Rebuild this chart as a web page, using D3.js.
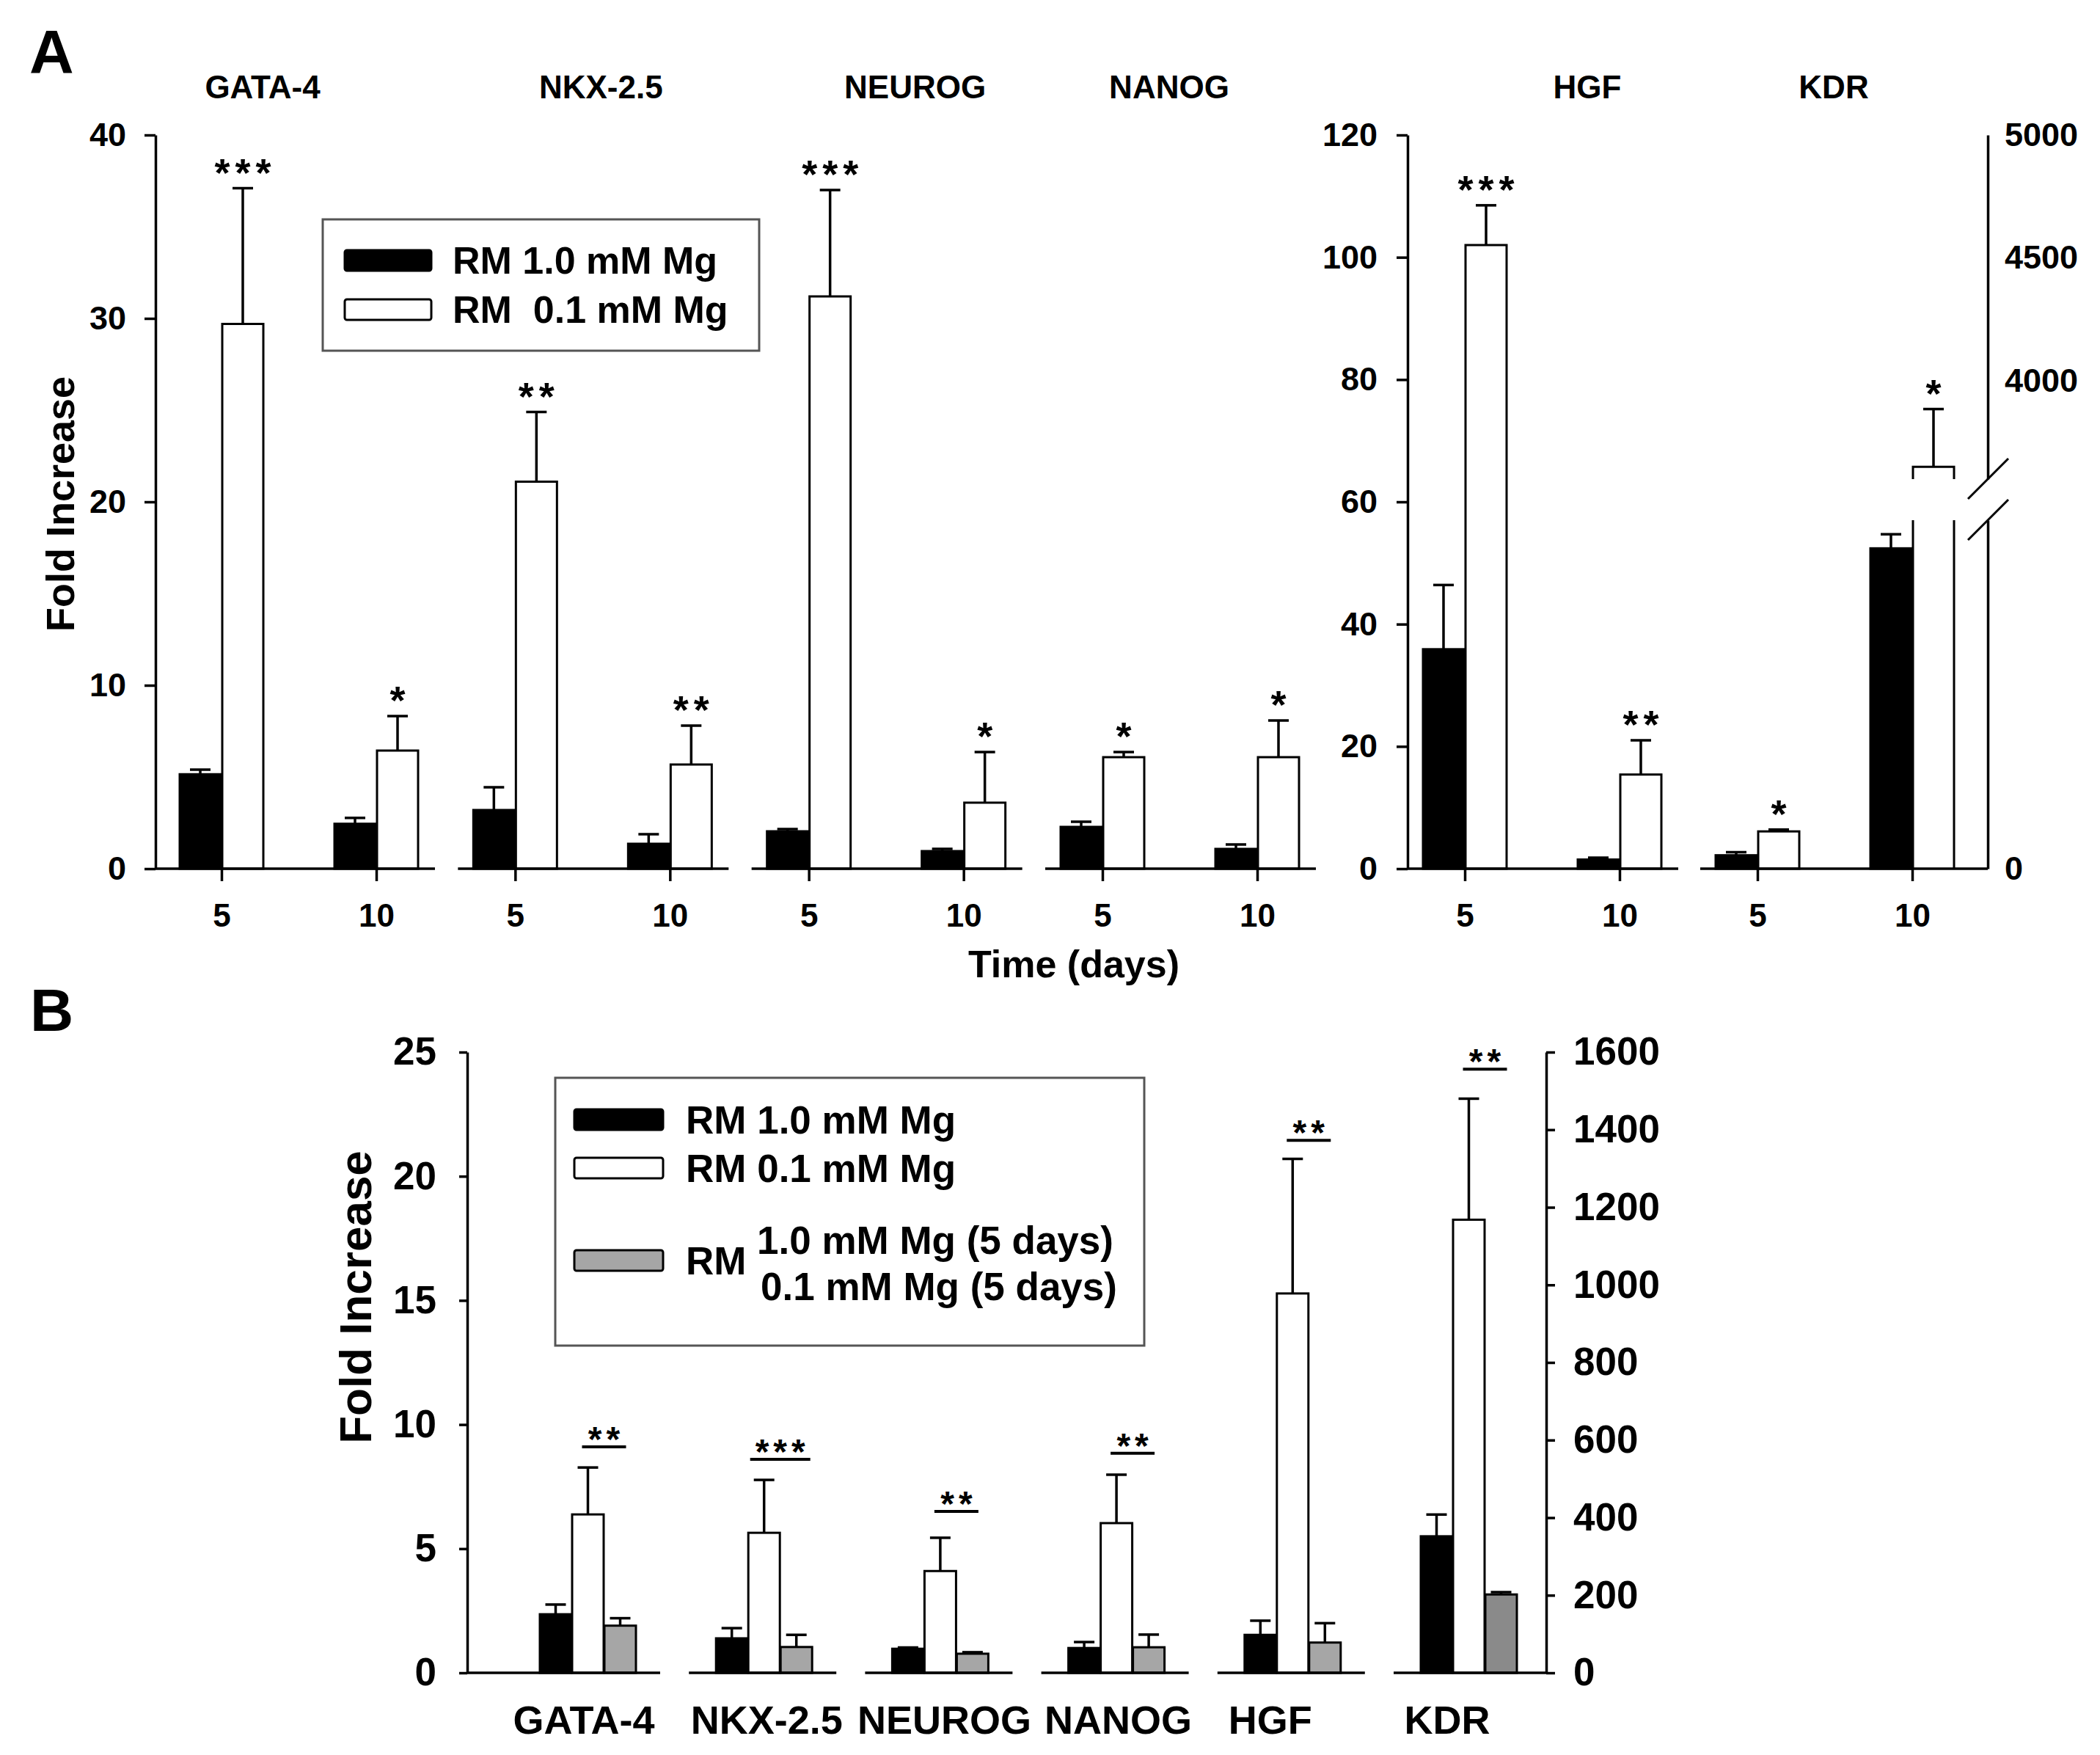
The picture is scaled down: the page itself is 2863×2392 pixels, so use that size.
<!DOCTYPE html>
<html><head><meta charset="utf-8">
<script src="https://cdn.jsdelivr.net/npm/d3@7"></script>
<style>
html,body{margin:0;padding:0;background:#fff}
svg{display:block}
text{font-family:"Liberation Sans",Arial,Helvetica,sans-serif;font-weight:bold;fill:#000}
</style>
</head><body>
<svg id="c" width="2863" height="2392" viewBox="0 0 2863 2392"></svg>
<script>
// ================= DATA =================
// Panel A
const genesA = ["GATA-4","NKX-2.5","NEUROG","NANOG","HGF","KDR"];
const daysA = ["5","10"];
// per gene: [day 5, day 10]
const aHighMean = [[5.15,2.45],[3.2,1.36],[2.04,0.96],[2.28,1.08],[35.9,1.5],[2.2,52.4]];   // RM 1.0 mM Mg
const aHighSD   = [[0.25,0.32],[1.24,0.52],[0.12,0.12],[0.28,0.24],[10.5,0.3],[0.5,2.3]];
const aLowMean  = [[29.7,6.44],[21.1,5.68],[31.2,3.6],[6.08,6.08],[102,15.4],[6.1,3650]];   // RM 0.1 mM Mg
const aLowSD    = [[7.4,1.88],[3.8,2.12],[5.8,2.76],[0.28,2.0],[6.5,5.6],[0.3,235]];
const aSig      = [["***","*"],["**","**"],["***","*"],["*","*"],["***","**"],["*","*"]];
const aTicksLeft = [0,10,20,30,40];
const aTicksHGF  = [0,20,40,60,80,100,120];
const aTicksKDRLow = [0];
const aTicksKDRHigh = [4000,4500,5000];
const kdrBreak = [57,3600];           // lower segment ends at 57, upper segment starts at 3600
const legendA = ["RM 1.0 mM Mg","RM  0.1 mM Mg"];

// Panel B
const genesB = ["GATA-4","NKX-2.5","NEUROG","NANOG","HGF","KDR"];
const bHighMean   = [2.36,1.39,0.97,1.0,1.53,352];
const bHighSD     = [0.39,0.41,0.05,0.24,0.57,56];
const bLowMean    = [6.38,5.64,4.1,6.03,15.28,1168];
const bLowSD      = [1.89,2.13,1.34,1.95,5.42,312];
const bSwitchMean = [1.9,1.04,0.77,1.03,1.22,202];
const bSwitchSD   = [0.3,0.49,0.06,0.51,0.78,6];
const bSig        = ["**","***","**","**","**","**"];
const bSigLevel   = [9.1,8.6,6.5,8.84,21.45,1556];
const bAxisOf     = ["left","left","left","left","left","right"];
const bTicksLeft  = [0,5,10,15,20,25];
const bTicksRight = [0,200,400,600,800,1000,1200,1400,1600];

// ================= LAYOUT =================
const titleNudgeA = [-49, 12, 40, -14, 62, -1];   // gene title shifts in panel A (px)
const labelNudgeB = [-6, 3, 5, 2, -31, -30];      // gene label shifts in panel B (px)

// ================= DRAW =================
const svg = d3.select("#c");
const SW = 3.5;
const fmt = d3.format("d");

function styleAxis(g, fs){
  g.attr("font-family", null).attr("font-size", fs);
  g.selectAll("path.domain").attr("stroke","#000").attr("stroke-width",SW);
  g.selectAll(".tick line").attr("stroke","#000").attr("stroke-width",SW);
}

// ---------- Panel A ----------
const A = svg.append("g");
const baseA = 1184, topA = 184;
const yA  = d3.scaleLinear().domain([0,40]).range([baseA,topA]);
const yH  = d3.scaleLinear().domain([0,120]).range([baseA,topA]);
const yKlo = d3.scaleLinear().domain([0,kdrBreak[0]]).range([baseA, yH(kdrBreak[0])]);
const yKup = d3.scaleLinear().domain([kdrBreak[1],5000]).range([653,topA]);
const yK = v => v <= kdrBreak[0] ? yKlo(v) : yKup(v);
const xLeft  = d3.scalePoint().domain(genesA.slice(0,4)).range([302,1503]);
const xRight = d3.scalePoint().domain(genesA.slice(4)).range([1997,2396]);
const gx = g => genesA.indexOf(g) < 4 ? xLeft(g) : xRight(g);
const xDay = d3.scalePoint().domain(daysA).range([0,211]);
const yFor = g => g === "HGF" ? yH : (g === "KDR" ? yK : yA);
const leftAxisX = 212, hgfAxisX = 1919, kdrAxisX = 2710;
const bwA = 56;

const barsA = [];
genesA.forEach((g,i)=>daysA.forEach((d,j)=>{
  barsA.push({g,d,s:0,mean:aHighMean[i][j],sd:aHighSD[i][j],sig:null});
  barsA.push({g,d,s:1,mean:aLowMean[i][j],sd:aLowSD[i][j],sig:aSig[i][j]});
}));
const bxA = b => gx(b.g) + xDay(b.d) + (b.s === 0 ? -bwA-1 : 1);

const normal = barsA.filter(b => !(b.g === "KDR" && b.mean > kdrBreak[0]));
const broken = barsA.filter(b => b.g === "KDR" && b.mean > kdrBreak[0]);

A.selectAll("rect.barA").data(normal).join("rect")
  .attr("x", bxA).attr("width", bwA)
  .attr("y", b => yFor(b.g)(b.mean))
  .attr("height", b => baseA - yFor(b.g)(b.mean))
  .attr("fill", b => b.s === 0 ? "#000" : "#fff")
  .attr("stroke","#000").attr("stroke-width",3);

broken.forEach(b=>{
  const x0 = bxA(b), x1 = x0 + bwA;
  A.append("path")
    .attr("d", `M${x0},${baseA}V${yKlo(kdrBreak[0])}M${x1},${baseA}V${yKlo(kdrBreak[0])}`)
    .attr("fill","none").attr("stroke","#000").attr("stroke-width",3);
  A.append("path")
    .attr("d", `M${x0},${yKup(kdrBreak[1])}V${yK(b.mean)}H${x1}V${yKup(kdrBreak[1])}`)
    .attr("fill","none").attr("stroke","#000").attr("stroke-width",3);
});

// error bars
const errA = A.append("g").attr("stroke","#000").attr("stroke-width",SW).attr("fill","none");
barsA.forEach(b=>{
  const y = yFor(b.g), cx = bxA(b) + bwA/2;
  const y0 = y(b.mean), y1 = y(b.mean + b.sd);
  errA.append("line").attr("x1",cx).attr("x2",cx).attr("y1",y0).attr("y2",y1);
  errA.append("line").attr("x1",cx-14).attr("x2",cx+14).attr("y1",y1).attr("y2",y1);
});
// significance stars
A.selectAll("text.sigA").data(barsA.filter(b=>b.sig)).join("text")
  .attr("x", b => bxA(b) + bwA/2).attr("dx", 3.5)
  .attr("y", b => yFor(b.g)(b.mean + b.sd) - 3)
  .attr("text-anchor","middle").attr("font-size",54).attr("letter-spacing",7)
  .text(b => b.sig);

// x axis segments
genesA.forEach((g,i)=>{
  const c = gx(g);
  const start = i === 0 ? leftAxisX : (g === "HGF" ? hgfAxisX : c - 78);
  const end = g === "KDR" ? kdrAxisX : c + xDay("10") + 80;
  A.append("line").attr("x1",start).attr("x2",end).attr("y1",baseA).attr("y2",baseA)
    .attr("stroke","#000").attr("stroke-width",SW);
  const xs = d3.scalePoint().domain(daysA).range([c + xDay("5"), c + xDay("10")]);
  const ax = A.append("g").attr("transform",`translate(0,${baseA})`)
    .call(d3.axisBottom(xs).tickSize(17).tickSizeOuter(0).tickPadding(31));
  ax.select(".domain").remove();
  styleAxis(ax, 44);
  // gene title
  A.append("text").attr("x", c + 105 + titleNudgeA[i]).attr("y",134)
    .attr("text-anchor","middle").attr("font-size",44).text(g);
});

// y axes
const axL = A.append("g").attr("transform",`translate(${leftAxisX},0)`)
  .call(d3.axisLeft(yA).tickValues(aTicksLeft).tickFormat(fmt).tickSize(15).tickSizeOuter(0).tickPadding(25));
styleAxis(axL, 45);
const axH = A.append("g").attr("transform",`translate(${hgfAxisX},0)`)
  .call(d3.axisLeft(yH).tickValues(aTicksHGF).tickFormat(fmt).tickSize(15).tickSizeOuter(0).tickPadding(26));
styleAxis(axH, 45);
const axK1 = A.append("g").attr("transform",`translate(${kdrAxisX},0)`)
  .call(d3.axisRight(yKlo).tickValues(aTicksKDRLow).tickFormat(fmt).tickSize(0).tickSizeOuter(0).tickPadding(23));
styleAxis(axK1, 45);
const axK2 = A.append("g").attr("transform",`translate(${kdrAxisX},0)`)
  .call(d3.axisRight(yKup).tickValues(aTicksKDRHigh).tickFormat(fmt).tickSize(0).tickSizeOuter(0).tickPadding(23));
styleAxis(axK2, 45);
// axis break marks
[yKup(kdrBreak[1]), yKlo(kdrBreak[0])].forEach(y=>{
  A.append("line").attr("x1",kdrAxisX-27).attr("y1",y+27).attr("x2",kdrAxisX+28).attr("y2",y-28)
    .attr("stroke","#000").attr("stroke-width",3);
});

// titles
A.append("text").attr("x",40).attr("y",100).attr("font-size",84).text("A");
A.append("text").attr("transform","translate(101,687) rotate(-90)")
  .attr("text-anchor","middle").attr("font-size",54).text("Fold Increase");
A.append("text").attr("x",1464).attr("y",1332).attr("text-anchor","middle")
  .attr("font-size",52).text("Time (days)");

// legend A
const lgA = A.append("g");
lgA.append("rect").attr("x",440).attr("y",299).attr("width",595).attr("height",179)
  .attr("fill","#fff").attr("stroke","#555").attr("stroke-width",3);
legendA.forEach((t,i)=>{
  const yc = 355 + i*67;
  lgA.append("rect").attr("x",470).attr("y",yc-14).attr("width",118).attr("height",28).attr("rx",3)
    .attr("fill", i===0 ? "#000" : "#fff").attr("stroke","#000").attr("stroke-width",3);
  lgA.append("text").attr("x",617).attr("y",yc+18).attr("font-size",52)
    .attr("xml:space","preserve").style("white-space","pre").text(t);
});

// ---------- Panel B ----------
const B = svg.append("g");
const baseB = 2280, topB = 1434;
const yB  = d3.scaleLinear().domain([0,25]).range([baseB,topB]);
const yB2 = d3.scaleLinear().domain([0,1600]).range([baseB,topB]);
const xB = d3.scalePoint().domain(genesB).range([802,2003]);
const leftB = 637, rightB = 2108;
const bwB = 43, pitchB = 44;
const colB = ["#000","#fff","#a6a6a6"];
const yForB = i => bAxisOf[i] === "right" ? yB2 : yB;

const barsB = [];
genesB.forEach((g,i)=>{
  barsB.push({g,i,s:0,mean:bHighMean[i],sd:bHighSD[i]});
  barsB.push({g,i,s:1,mean:bLowMean[i],sd:bLowSD[i]});
  barsB.push({g,i,s:2,mean:bSwitchMean[i],sd:bSwitchSD[i]});
});
const bxB = b => xB(b.g) - 66 + b.s*pitchB;

B.selectAll("rect.barB").data(barsB).join("rect")
  .attr("x", bxB).attr("width", bwB)
  .attr("y", b => yForB(b.i)(b.mean))
  .attr("height", b => baseB - yForB(b.i)(b.mean))
  .attr("fill", b => (b.s === 2 && b.g === "KDR") ? "#8a8a8a" : colB[b.s])
  .attr("stroke","#000").attr("stroke-width",3);

const errB = B.append("g").attr("stroke","#000").attr("stroke-width",SW);
barsB.forEach(b=>{
  const y = yForB(b.i), cx = bxB(b) + bwB/2;
  const y0 = y(b.mean), y1 = y(b.mean + b.sd);
  errB.append("line").attr("x1",cx).attr("x2",cx).attr("y1",y0).attr("y2",y1);
  errB.append("line").attr("x1",cx-14).attr("x2",cx+14).attr("y1",y1).attr("y2",y1);
});

// significance brackets
genesB.forEach((g,i)=>{
  const cx = xB(g) - 66 + 2*pitchB - 0.5;
  const y = yForB(i)(bSigLevel[i]);
  const hw = bSig[i].length > 2 ? 41 : 30;
  B.append("line").attr("x1",cx-hw).attr("x2",cx+hw).attr("y1",y).attr("y2",y)
    .attr("stroke","#000").attr("stroke-width",4);
  B.append("text").attr("x",cx).attr("dx",3).attr("y",y+6).attr("text-anchor","middle")
    .attr("font-size",48).attr("letter-spacing",6).text(bSig[i]);
});

// x axis segments + labels
genesB.forEach((g,i)=>{
  const c = xB(g);
  const start = i === 0 ? leftB : c - 103;
  const end = i === genesB.length-1 ? rightB : c + 98;
  B.append("line").attr("x1",start).attr("x2",end).attr("y1",baseB).attr("y2",baseB)
    .attr("stroke","#000").attr("stroke-width",SW);
  B.append("text").attr("x", c + labelNudgeB[i]).attr("y", 2363)
    .attr("text-anchor","middle").attr("font-size",54).text(g);
});

const axBL = B.append("g").attr("transform",`translate(${leftB},0)`)
  .call(d3.axisLeft(yB).tickValues(bTicksLeft).tickFormat(fmt).tickSize(11).tickSizeOuter(0).tickPadding(31));
styleAxis(axBL, 53);
const axBR = B.append("g").attr("transform",`translate(${rightB},0)`)
  .call(d3.axisRight(yB2).tickValues(bTicksRight).tickFormat(fmt).tickSize(12).tickSizeOuter(0).tickPadding(25));
styleAxis(axBR, 53);

B.append("text").attr("x",41).attr("y",1405).attr("font-size",82).text("B");
B.append("text").attr("transform","translate(506,1768) rotate(-90)")
  .attr("text-anchor","middle").attr("font-size",62).text("Fold Increase");

// legend B
const lgB = B.append("g");
lgB.append("rect").attr("x",757).attr("y",1469).attr("width",803).attr("height",365)
  .attr("fill","#fff").attr("stroke","#555").attr("stroke-width",3);
const swB = [1526,1592,1718];
swB.forEach((yc,i)=>{
  lgB.append("rect").attr("x",783).attr("y",yc-14).attr("width",121).attr("height",28).attr("rx",3)
    .attr("fill",colB[i]).attr("stroke","#000").attr("stroke-width",3);
});
lgB.append("text").attr("x",935).attr("y",1545).attr("font-size",53).text("RM 1.0 mM Mg");
lgB.append("text").attr("x",935).attr("y",1611).attr("font-size",53).text("RM 0.1 mM Mg");
lgB.append("text").attr("x",935).attr("y",1737).attr("font-size",53).text("RM");
lgB.append("text").attr("x",1032).attr("y",1709).attr("font-size",53).text("1.0 mM Mg (5 days)");
lgB.append("text").attr("x",1037).attr("y",1772).attr("font-size",53).text("0.1 mM Mg (5 days)");
</script>
</body></html>
